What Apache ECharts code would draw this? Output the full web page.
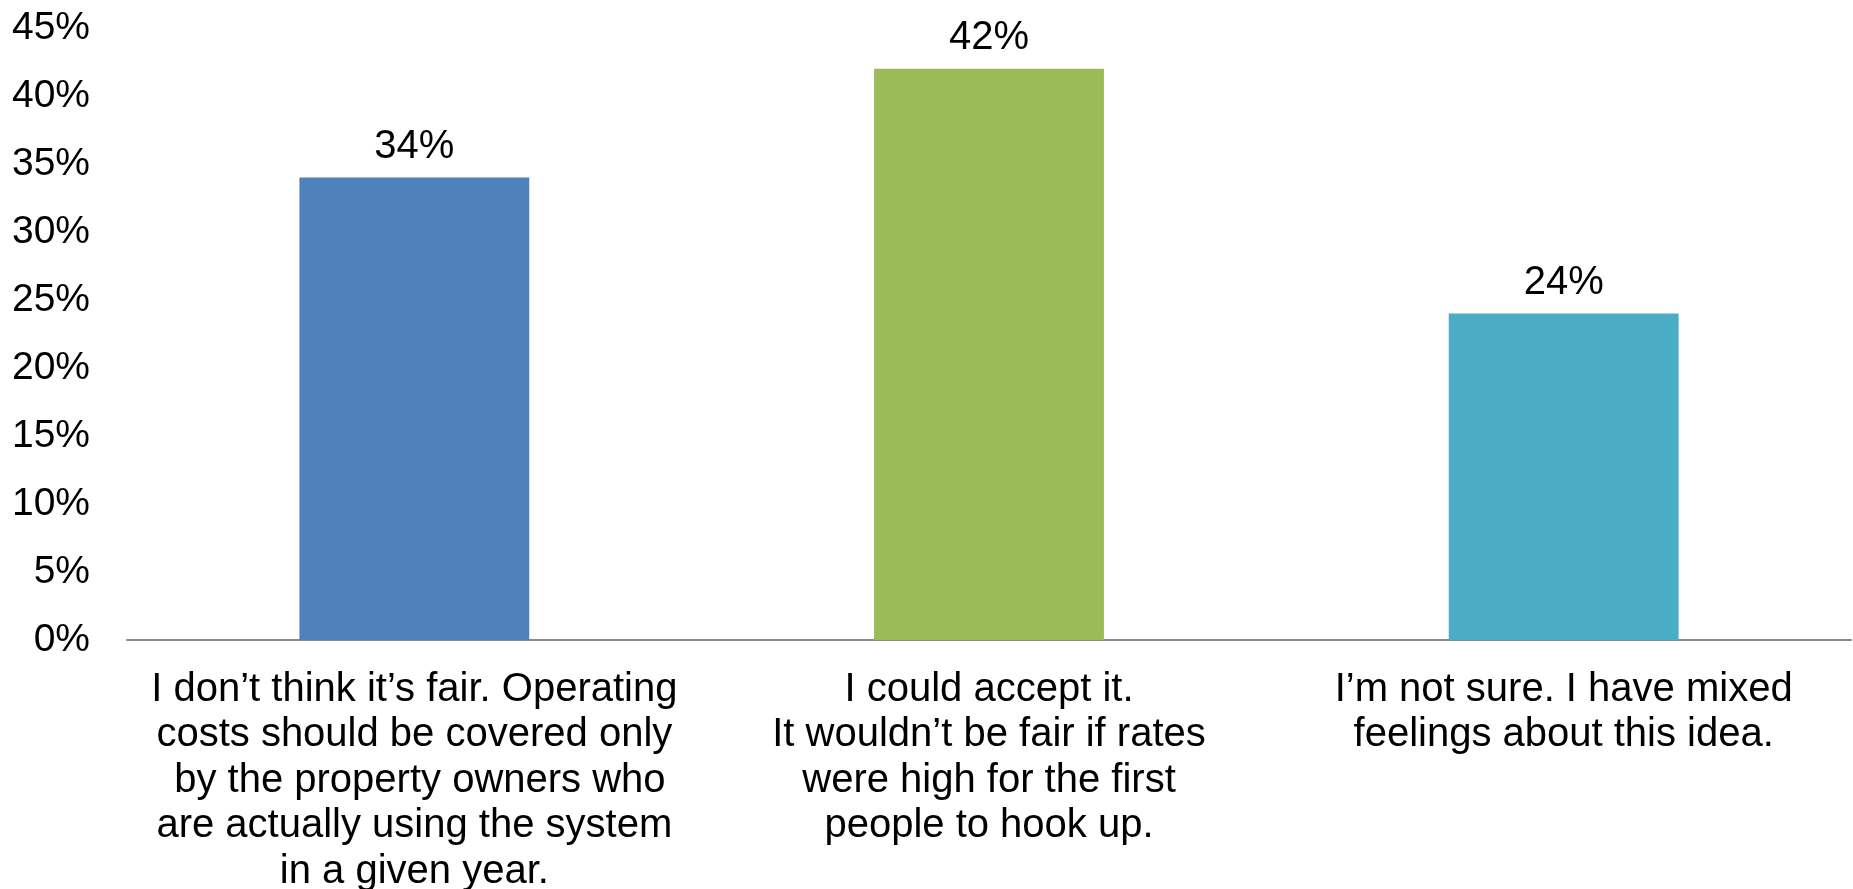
<!DOCTYPE html>
<html><head><meta charset="utf-8">
<script src="https://cdn.jsdelivr.net/npm/echarts@6/dist/echarts.min.js"></script>
<style>html,body{margin:0;padding:0;background:#fff}#c{width:1853px;height:889px}</style>
</head><body><div id="c"></div>
<script>
const categories = [
  "I don\u2019t think it\u2019s fair. Operating\ncosts should be covered only\n by the property owners who\nare actually using the system\nin a given year.",
  "I could accept it.\nIt wouldn\u2019t be fair if rates\nwere high for the first\npeople to hook up.",
  "I\u2019m not sure. I have mixed\nfeelings about this idea."
];
const values = [34, 42, 24];
const barColors = ["#4F81BD", "#9BBB59", "#4BACC6"];
const yTicks = [0, 5, 10, 15, 20, 25, 30, 35, 40, 45];

const font = "'Liberation Sans', Arial, sans-serif";
const chart = echarts.init(document.getElementById('c'), null, {renderer: 'canvas'});
chart.setOption({
  animation: false,
  backgroundColor: '#fff',
  grid: {left: 127, right: 2, top: 28, bottom: 249, containLabel: false, outerBoundsMode: 'none'},
  xAxis: {
    type: 'category',
    data: categories,
    axisLine: {show: true, lineStyle: {color: '#898989', width: 2}},
    axisTick: {show: false},
    axisLabel: {
      interval: 0, color: '#000', fontFamily: font, fontSize: 40,
      lineHeight: 45.5, margin: 27, align: 'center'
    }
  },
  yAxis: {
    type: 'value', min: yTicks[0], max: yTicks[yTicks.length - 1], interval: 5,
    splitLine: {show: false},
    axisLine: {show: false}, axisTick: {show: false},
    axisLabel: {color: '#000', fontFamily: font, fontSize: 39, margin: 37,
      formatter: v => v + '%'}
  },
  series: [{
    type: 'bar',
    barWidth: '40%',
    data: values.map((v, i) => ({value: v, itemStyle: {color: barColors[i]}})),
    label: {show: true, position: 'top', distance: 11, color: '#000',
      fontFamily: font, fontSize: 40, formatter: p => p.value + '%'}
  }]
});
</script></body></html>
